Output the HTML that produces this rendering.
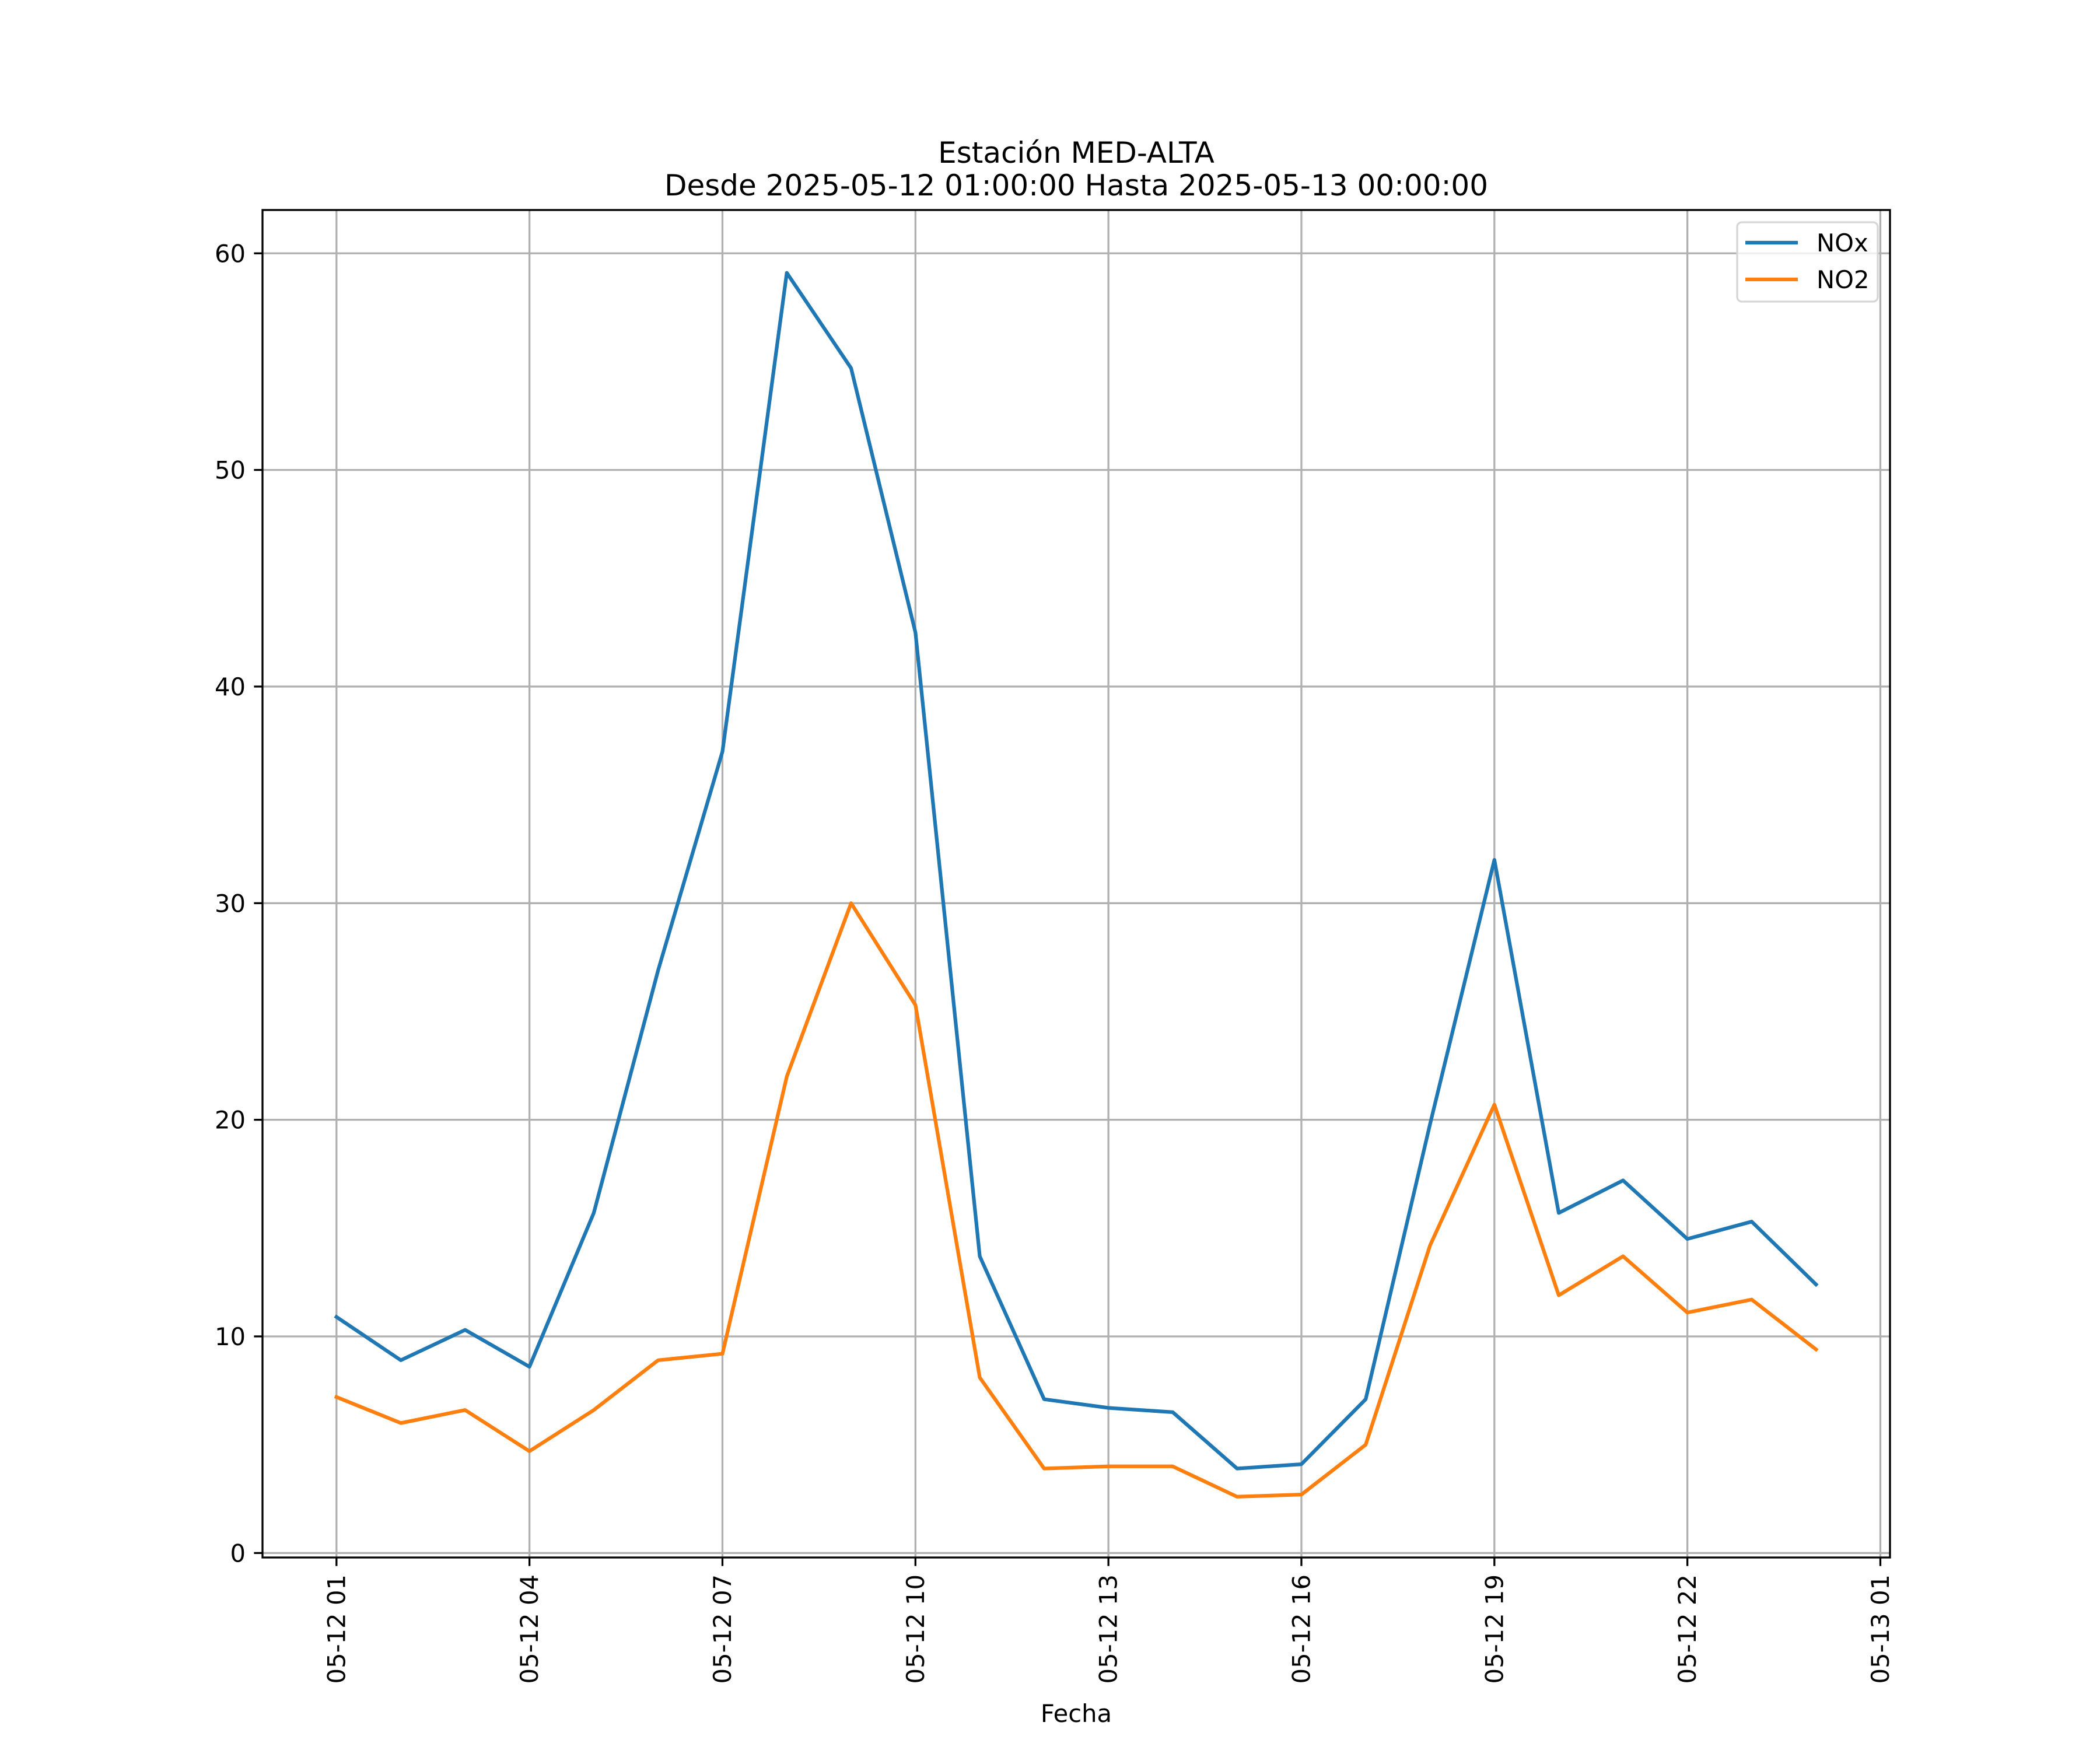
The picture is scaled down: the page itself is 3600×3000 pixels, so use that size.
<!DOCTYPE html>
<html><head><meta charset="utf-8"><style>html,body{margin:0;padding:0;background:#fff}svg{display:block}text{font-family:"DejaVu Sans","Liberation Sans",sans-serif;fill:#000}</style></head>
<body>
<svg id="chart" width="3600" height="3000" viewBox="0 0 3600 3000" xmlns="http://www.w3.org/2000/svg">
<rect width="3600" height="3000" fill="#fff"/>
<text x="1845" y="279" font-size="50" text-anchor="middle">Estación MED-ALTA</text>
<text x="1845" y="335" font-size="50" text-anchor="middle">Desde 2025-05-12 01:00:00 Hasta 2025-05-13 00:00:00</text>
<g id="grid"></g>
<g id="series"></g>
<rect x="450" y="360" width="2790" height="2310" fill="none" stroke="#000" stroke-width="3.3"/>
<g id="axes"></g>
<text x="1845" y="2952" font-size="41.7" text-anchor="middle">Fecha</text>
<g>
<rect x="2978" y="381" width="241" height="136" rx="8" fill="#fff" fill-opacity="0.8" stroke="#d6d6d6" stroke-width="3.3"/>
<g><line x1="2992" y1="416" x2="3082" y2="416" stroke="#1f77b4" stroke-width="6.25"/><text x="3114" y="431" font-size="41.7">NOx</text></g>
<g><line x1="2992" y1="479" x2="3082" y2="479" stroke="#ff7f0e" stroke-width="6.25"/><text x="3114" y="494" font-size="41.7">NO2</text></g>
</g>
</svg>
<script>
const hours = [1,2,3,4,5,6,7,8,9,10,11,12,13,14,15,16,17,18,19,20,21,22,23,24];
const noxValues = [10.9,8.9,10.3,8.6,15.7,26.9,37.0,59.1,54.7,42.5,13.7,7.1,6.7,6.5,3.9,4.1,7.1,19.8,32.0,15.7,17.2,14.5,15.3,12.4];
const no2Values = [7.2,6.0,6.6,4.7,6.6,8.9,9.2,22.0,30.0,25.3,8.1,3.9,4.0,4.0,2.6,2.7,5.0,14.2,20.7,11.9,13.7,11.1,11.7,9.4];
const xTickHours = [1,4,7,10,13,16,19,22,25];
const xTickLabels = ["05-12 01","05-12 04","05-12 07","05-12 10","05-12 13","05-12 16","05-12 19","05-12 22","05-13 01"];
const yTicks = [0,10,20,30,40,50,60];

const NS = "http://www.w3.org/2000/svg";
const L=450,R=3240,T=360,B=2670;
const xMin = hours[0] - (hours[hours.length-1]-hours[0])*0.05;
const xMax = hours[hours.length-1] + (hours[hours.length-1]-hours[0])*0.05;
const yMin = -0.207, yMax = 62.0;
function xs(h){return L+(h-xMin)/(xMax-xMin)*(R-L);}
function ys(v){return B-(v-yMin)/(yMax-yMin)*(B-T);}
function mk(tag,attrs,parent){const e=document.createElementNS(NS,tag);for(const k in attrs)e.setAttribute(k,attrs[k]);parent.appendChild(e);return e;}
const grid=document.getElementById('grid'), axes=document.getElementById('axes'), series=document.getElementById('series');

xTickHours.forEach((h,i)=>{
  const x=xs(h);
  const g=mk('line',{x1:x,y1:T,x2:x,y2:B,stroke:'#b0b0b0','stroke-width':3.3},grid);
  
  
  const t=mk('line',{x1:x,y1:B,x2:x,y2:B+14.6,stroke:'#000','stroke-width':3.3},axes);
  
  
  const lb=mk('text',{x:0,y:0,'font-size':41.7,'text-anchor':'end','dominant-baseline':'central',transform:`translate(${x},${B+29})rotate(-90)`},axes);
  lb.textContent=xTickLabels[i];
  
  
});
yTicks.forEach(v=>{
  const y=ys(v);
  const g=mk('line',{x1:L,y1:y,x2:R,y2:y,stroke:'#b0b0b0','stroke-width':3.3},grid);
  
  
  const t=mk('line',{x1:L-14.6,y1:y,x2:L,y2:y,stroke:'#000','stroke-width':3.3},axes);
  
  
  const lb=mk('text',{x:L-29,y:y+15,'font-size':41.7,'text-anchor':'end'},axes);
  lb.textContent=String(v);
  
  
});
function line(vals,color,name){
  const pts=vals.map((v,i)=>xs(hours[i]).toFixed(1)+','+ys(v).toFixed(1)).join(' ');
  const p=mk('polyline',{points:pts,fill:'none',stroke:color,'stroke-width':6.25,'stroke-linejoin':'round','stroke-linecap':'square'},series);
  
  
}
line(noxValues,'#1f77b4','nox-line');
line(no2Values,'#ff7f0e','no2-line');
</script>
</body></html>
